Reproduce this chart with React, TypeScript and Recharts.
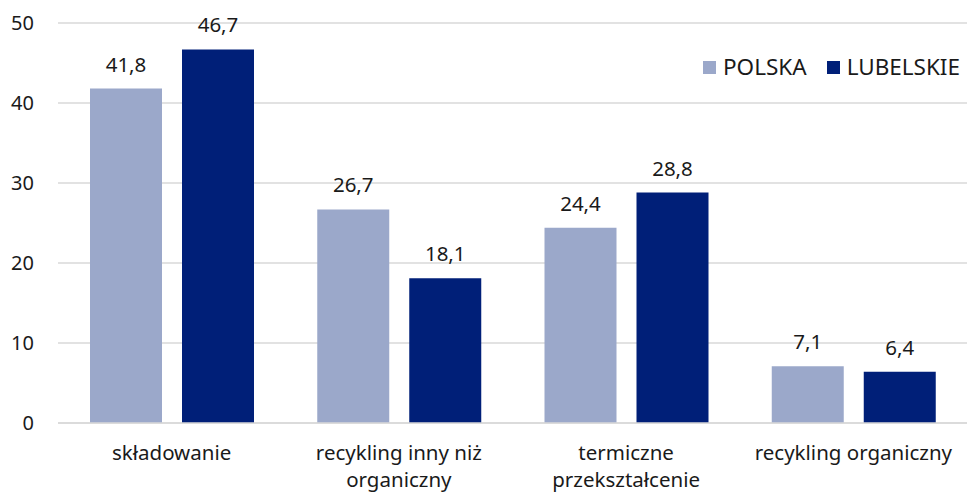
import React from "react";
import { BarChart, Bar, XAxis, YAxis, CartesianGrid, LabelList } from "recharts";

const categories = ["składowanie", "recykling inny niż\norganiczny", "termiczne\nprzekształcenie", "recykling organiczny"];
const polska = [41.8, 26.7, 24.4, 7.1];
const lubelskie = [46.7, 18.1, 28.8, 6.4];
const yTicks = [0, 10, 20, 30, 40, 50];
const seriesNames = ["POLSKA", "LUBELSKIE"];

const data = categories.map((c, i) => ({ name: c, polska: polska[i], lubelskie: lubelskie[i] }));

const FONT = "'Noto Sans', 'Open Sans', sans-serif";
const TEXT = "#1a1a1a";
const C1 = "#9BA8CA";
const C2 = "#001F78";

const fmt = (v: any) => String(v).replace(".", ",");

const XTick = (props: any) => {
  const { x, y, payload } = props;
  const lines = String(payload.value).split("\n");
  return (
    <g>
      {lines.map((l, i) => (
        <text key={i} x={x} y={y + 37 + i * 26.5} textAnchor="middle" fill={TEXT} fontSize={20.5} fontFamily={FONT}>
          {l}
        </text>
      ))}
    </g>
  );
};

export default function App() {
  return (
    <div style={{ position: "absolute", left: 0, top: 0, width: 967, height: 493, background: "#fff" }}>
      <BarChart width={967} height={493} data={data} margin={{ top: 23, right: 0, bottom: 0, left: 0 }} barCategoryGap={32} barGap={20}>
        <CartesianGrid vertical={false} stroke="#D9D9D9" strokeWidth={1.5} />
        <XAxis dataKey="name" height={70} tick={<XTick />} tickLine={false} axisLine={{ stroke: "#D9D9D9", strokeWidth: 1.5 }} tickSize={0} tickMargin={0} interval={0} />
        <YAxis width={58} domain={[0, 50]} ticks={yTicks} axisLine={false} tickLine={false} tickSize={0} tickMargin={24}
          tick={{ fill: TEXT, fontSize: 20, fontFamily: FONT }} />
        <Bar dataKey="polska" name={seriesNames[0]} fill={C1} isAnimationActive={false}>
          <LabelList dataKey="polska" position="top" offset={17} formatter={fmt} fill={TEXT} fontSize={20.5} fontFamily={FONT} />
        </Bar>
        <Bar dataKey="lubelskie" name={seriesNames[1]} fill={C2} isAnimationActive={false}>
          <LabelList dataKey="lubelskie" position="top" offset={17} formatter={fmt} fill={TEXT} fontSize={20.5} fontFamily={FONT} />
        </Bar>
      </BarChart>
      <div style={{ position: "absolute", left: 703, top: 53, display: "flex", alignItems: "center", fontFamily: FONT, fontSize: 22.5, color: TEXT, lineHeight: "28px" }}>
        {seriesNames.map((n, i) => (
          <div key={n} style={{ display: "flex", alignItems: "center", marginLeft: i === 0 ? 0 : 20 }}>
            <div style={{ width: 13, height: 13, background: i === 0 ? C1 : C2, marginRight: 7 }} />
            <span>{n}</span>
          </div>
        ))}
      </div>
    </div>
  );
}
